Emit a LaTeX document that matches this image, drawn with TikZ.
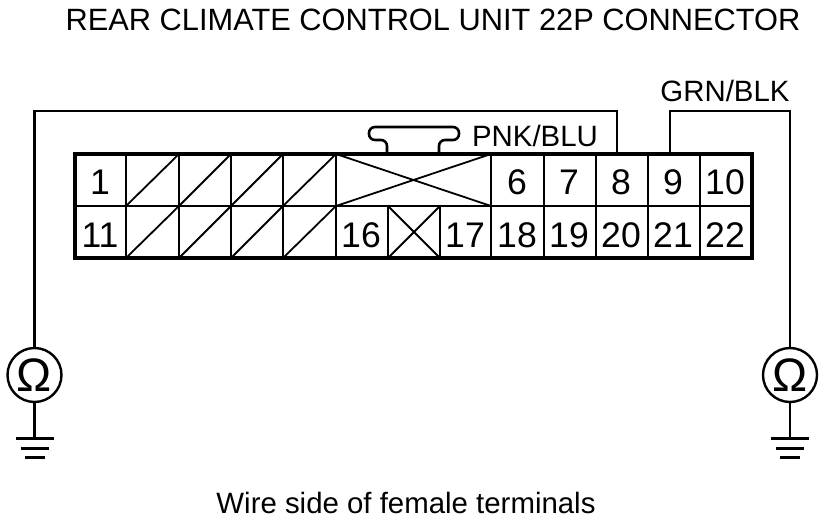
\documentclass[tikz,border=0pt]{standalone}
\usepackage{fontspec}
\setmainfont{Liberation Sans}
\tikzset{
  wire/.style={line width=2.2pt,line join=miter},
  grid line/.style={line width=2.2pt},
  thin diag/.style={line width=1.8pt},
  frame line/.style={line width=3.6pt},
  pin/.style={font=\fontsize{35.6}{36}\selectfont,inner sep=0pt,anchor=center},
  caption/.style={font=\fontsize{29.4}{30}\selectfont,inner sep=0pt,anchor=center},
  title text/.style={font=\fontsize{30.8}{31}\selectfont,inner sep=0pt,anchor=center},
  meter/.style={circle,draw,line width=2.4pt,minimum size=54pt,inner sep=0pt,font=\fontsize{47}{47}\selectfont},
  gnd/.style={line width=3pt},
}
\begin{document}
\begin{tikzpicture}[x=1pt,y=-1pt]
\useasboundingbox (0,0) rectangle (832,522);
\node[title text] (title) at (433,20) {REAR CLIMATE CONTROL UNIT 22P CONNECTOR};
\node[caption] (foot) at (406,503) {Wire side of female terminals};
\node[caption] (pb) at (535,136) {PNK/BLU};
\node[caption] (gb) at (725,91) {GRN/BLK};
% diagonals
\foreach \a/\b in {126/179,179/231,231/283,283/336}{
  \draw[thin diag] (\a,206) -- (\b,154);
  \draw[thin diag] (\a,258) -- (\b,206);
}
\draw[thin diag] (336,154) -- (491,206);
\draw[thin diag] (336,206) -- (491,154);
\draw[thin diag] (388,206) -- (440,258);
\draw[thin diag] (388,258) -- (440,206);
% grid
\draw[grid line] (75,206) -- (752,206);
\foreach \x in {126,179,231,283,336,491,544,596,648,700}{
  \draw[grid line] (\x,154) -- (\x,258);
}
\draw[grid line] (388,206) -- (388,258);
\draw[grid line] (440,206) -- (440,258);
\draw[frame line] (75,154) rectangle (752,258);
% pins
\foreach \n/\x/\y in {1/100/182,6/517/182,7/569/182,8/621/182,9/673/182,10/725/182,
  11/100/235,16/361/235,17/465/235,18/517/235,19/569/235,20/621/235,21/673/235,22/725/235}{
  \node[pin] (p\n) at (\x,\y) {\n};
}
% latch
\draw[wire,line width=2.6pt,rounded corners=6pt] (387,153) -- (387,140) -- (369,140) -- (369,127) -- (459,127) -- (459,140) -- (439,140) -- (439,153);
% meters and ground
\node[meter] (ml) at (34.5,375) {Ω};
\node[meter] (mr) at (790,375) {Ω};
\coordinate (c8) at (617,153);
\coordinate (c9) at (670,153);
\coordinate (gl) at (34.5,438);
\coordinate (gr) at (790,438);
\draw[wire] (c8) -- (617,111) -- (34.5,111) -- (ml.north);
\draw[wire] (c9) -- (670,111) -- (790,111) -- (mr.north);
\draw[wire] (ml.south) -- (gl);
\draw[wire] (mr.south) -- (gr);
\foreach \g in {gl,gr}{
  \draw[gnd] ([xshift=-19pt]\g) -- ([xshift=19pt]\g);
  \draw[gnd] ([xshift=-14pt,yshift=-10pt]\g) -- ([xshift=14pt,yshift=-10pt]\g);
  \draw[gnd] ([xshift=-10pt,yshift=-19pt]\g) -- ([xshift=10pt,yshift=-19pt]\g);
}
\end{tikzpicture}
\end{document}
